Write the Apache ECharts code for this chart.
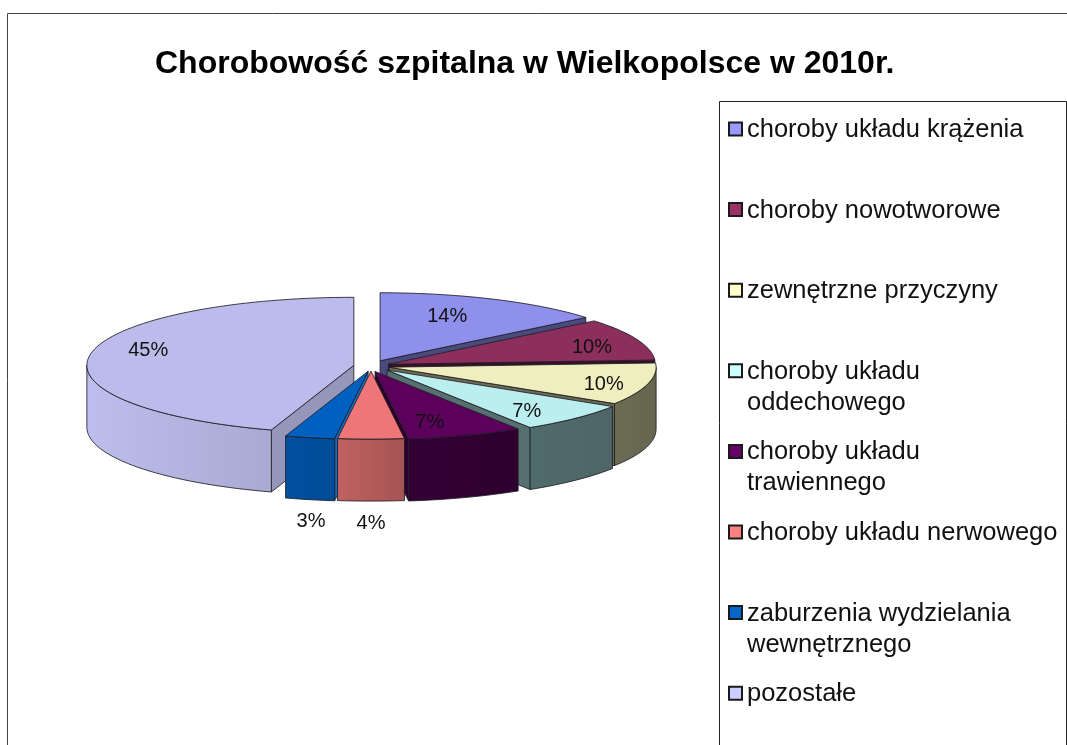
<!DOCTYPE html>
<html lang="pl">
<head>
<meta charset="utf-8">
<title>Chorobowość szpitalna w Wielkopolsce w 2010r.</title>
<script src="https://cdn.jsdelivr.net/npm/echarts@6/dist/echarts.min.js"></script>
<style>html,body{margin:0;padding:0;background:#fff}#c{width:1067px;height:745px}</style>
</head>
<body>
<div id="c"></div>
<script>
// Hospital morbidity shares, in percent
const categories = [
  'choroby układu krążenia', 'choroby nowotworowe', 'zewnętrzne przyczyny',
  'choroby układu\noddechowego', 'choroby układu\ntrawiennego',
  'choroby układu nerwowego', 'zaburzenia wydzielania\nwewnętrznego', 'pozostałe'
];
const shares = [14, 10, 10, 7, 7, 4, 3, 45];

// Colours: legend swatch, slice top, outer wall (left/right stops), cut face
const swatchColors = ['#9999ff', '#993366', '#ffffcc', '#ccffff', '#660066', '#ff8080', '#0066cc', '#ccccff'];
const topColors = ['#8f8fec', '#8c2f5c', '#eeeebe', '#bbeeee', '#5c005c', '#ee7676', '#0060bf', '#bcbcec'];
const wallLeft = ['#4d4d80', '#4d1c33', '#6c6c54', '#506b6c', '#340034', '#c06262', '#00509f', '#bebeee'];
const wallRight = ['#4d4d80', '#4d1c33', '#66664f', '#4f6567', '#2e002e', '#a55353', '#004c96', '#a9a9d2'];
const faceColors = ['#4a4a7c', '#3a0f26', '#6a6a52', '#566f70', '#2c002c', '#a55353', '#0d6fc4', '#9696bb'];

// Pie projection and explosion of each slice along its mid angle (horizontal, vertical)
const CX = 371, CY = 366, RX = 267, RY = 68, DEPTH = 62;
const explode = [[0.08, 0.085], [0.07, 0.07], [0.07, 0.07], [0.085, 0.085], [0.045, 0.086], [0, 0.075], [0.05, 0.08], [0.065, 0.065]];
// Label placement as a multiple of the mid-angle radius (horizontal, vertical)
const labelReach = [[0.59, 0.727], [0.82, 0.68], [0.83, 1.05], [0.74, 0.87], [0.605, 0.8], [1, 2.235], [0.98, 2.27], [0.78, 1.41]];

const total = shares.reduce((a, b) => a + b, 0);
const DEG = Math.PI / 180;
const slices = [];
let running = 0;
shares.forEach((v, i) => {
  const a0 = running / total * 360;
  running += v;
  const a1 = running / total * 360;
  const mid = (a0 + a1) / 2;
  slices.push({
    a0, a1, mid,
    ax: CX + explode[i][0] * RX * Math.sin(mid * DEG),
    ay: CY - explode[i][1] * RY * Math.cos(mid * DEG)
  });
});
// Back slices are painted first
const paintRank = slices.map((s, i) => i)
  .sort((p, q) => Math.cos(slices[q].mid * DEG) - Math.cos(slices[p].mid * DEG));

function rim(s, deg, drop) {
  return [s.ax + RX * Math.sin(deg * DEG), s.ay - RY * Math.cos(deg * DEG) + drop];
}
function arc(s, from, to, drop) {
  const pts = [];
  const n = Math.max(2, Math.ceil(Math.abs(to - from) / 2));
  for (let k = 0; k <= n; k++) pts.push(rim(s, from + (to - from) * k / n, drop));
  return pts;
}
const EDGE = { stroke: 'rgba(30,30,40,0.85)', lineWidth: 1, lineJoin: 'round' };

function drawSlice(i, value) {
  const s = slices[i];
  const kids = [];
  const poly = (points, fill) => kids.push({
    type: 'polygon', shape: { points }, style: Object.assign({ fill }, EDGE)
  });
  const cutFace = (deg) => {
    const e = rim(s, deg, 0), f = rim(s, deg, DEPTH);
    poly([[s.ax, s.ay], e, f, [s.ax, s.ay + DEPTH]], faceColors[i]);
  };
  if (Math.sin(s.a0 * DEG) < 0) cutFace(s.a0);
  if (Math.sin(s.a1 * DEG) > 0) cutFace(s.a1);
  const wFrom = Math.max(s.a0, 90), wTo = Math.min(s.a1, 270);
  if (wTo > wFrom) {
    const upper = arc(s, wFrom, wTo, 0);
    const lower = arc(s, wTo, wFrom, DEPTH);
    poly(upper.concat(lower), new echarts.graphic.LinearGradient(0, 0, 1, 0, [
      { offset: 0, color: wallLeft[i] }, { offset: 1, color: wallRight[i] }
    ]));
  }
  poly([[s.ax, s.ay]].concat(arc(s, s.a0, s.a1, 0)), topColors[i]);
  const dir = [RX * Math.sin(s.mid * DEG), -RY * Math.cos(s.mid * DEG)];
  kids.push({
    type: 'text', z2: 20,
    style: {
      text: value + '%', x: s.ax + labelReach[i][0] * dir[0], y: s.ay + labelReach[i][1] * dir[1],
      align: 'center', verticalAlign: 'middle', fill: '#111',
      font: '20px "Liberation Sans", Arial, sans-serif'
    }
  });
  return { type: 'group', children: kids };
}

// One legend block per entry so first lines keep an even rhythm.
// A spacer line above the text keeps the swatch level with the first line.
const LEGEND_LINE = 31, LEGEND_NUDGE = 2, LEGEND_FIRST = 129.5, LEGEND_STEP = 80.6;
const FONT = '"Liberation Sans", Arial, sans-serif';
const legendRich = {
  t: { fontSize: 25.5, lineHeight: LEGEND_LINE, fontFamily: FONT, color: '#111' },
  one: { fontSize: 1, lineHeight: LEGEND_NUDGE },
  two: { fontSize: 1, lineHeight: LEGEND_LINE + LEGEND_NUDGE }
};
const legends = categories.map((name, i) => {
  const lines = name.split('\n');
  const boxH = lines.length * LEGEND_LINE + LEGEND_NUDGE;
  return {
    data: [{
      name, icon: 'rect',
      itemStyle: { color: swatchColors[i], borderColor: '#1a1a1a', borderWidth: 2 }
    }],
    formatter: () => '{' + (lines.length === 2 ? 'two' : 'one') + '| }\n' + lines.map(l => '{t|' + l + '}').join('\n'),
    left: 728, top: LEGEND_FIRST + i * LEGEND_STEP - boxH / 2,
    padding: 0, itemWidth: 13, itemHeight: 13, itemGap: 0, selectedMode: false,
    textStyle: { rich: legendRich }
  };
});

const chart = echarts.init(document.getElementById('c'), null, { renderer: 'canvas' });
chart.setOption({
  animation: false,
  backgroundColor: '#fff',
  title: {
    text: 'Chorobowość szpitalna w Wielkopolsce w 2010r.',
    left: 155, top: 48, padding: 0,
    textStyle: { color: '#000', fontSize: 32, fontWeight: 'bold', fontFamily: FONT }
  },
  legend: legends,
  graphic: [
    { type: 'rect', z: 0, shape: { x: 7.5, y: 13.5, width: 1200, height: 900 },
      style: { fill: 'none', stroke: '#444', lineWidth: 1 } },
    { type: 'rect', z: 0, shape: { x: 719.5, y: 101.5, width: 347, height: 900 },
      style: { fill: '#fff', stroke: '#222', lineWidth: 1 } }
  ],
  series: categories.map((name, i) => ({
    type: 'custom',
    name,
    coordinateSystem: 'none',
    z: 2 + paintRank.indexOf(i),
    silent: true,
    itemStyle: { color: swatchColors[i] },
    data: [shares[i]],
    renderItem: (params, api) => drawSlice(i, api.value(0))
  }))
});
</script>
</body>
</html>
